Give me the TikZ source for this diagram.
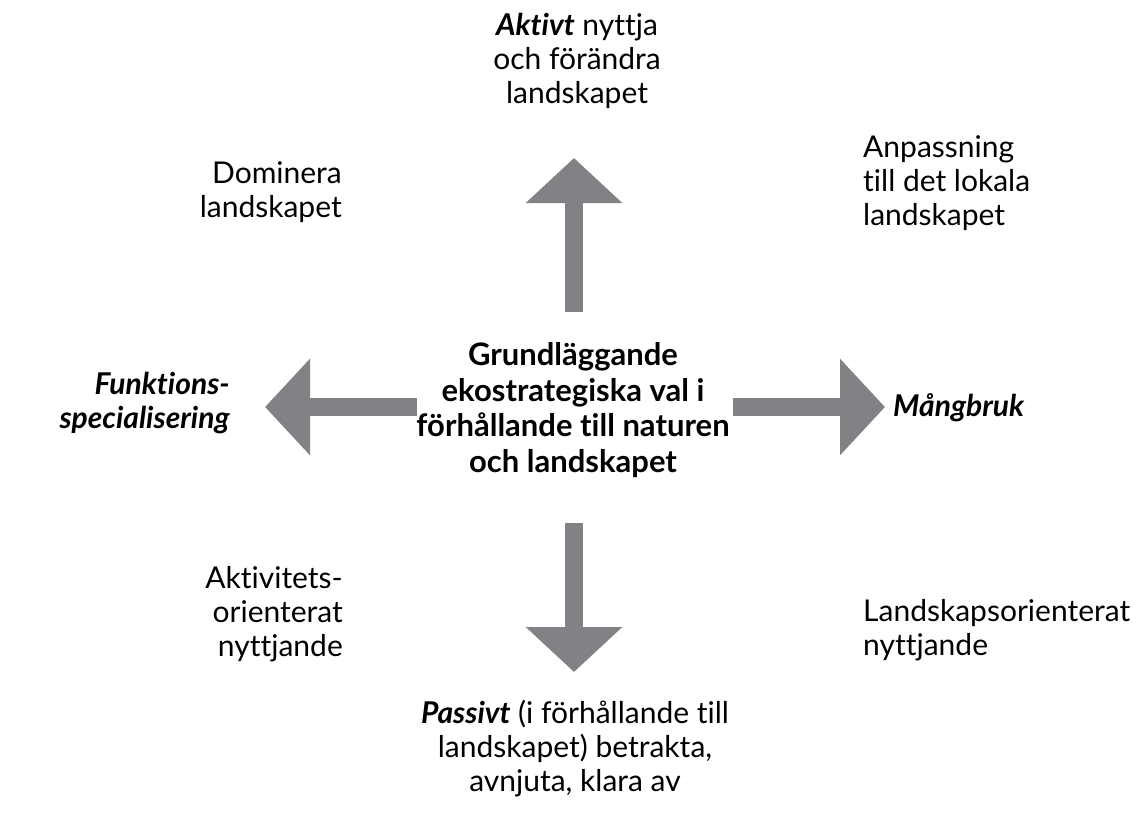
\documentclass[tikz,border=0pt]{standalone}
\usepackage{fontspec}
\setmainfont{Lato}[Ligatures=NoCommon]
\usetikzlibrary{arrows.meta}

\definecolor{arrowgray}{RGB}{128,130,133}

\tikzset{
  lbl/.style={font=\fontsize{30}{34}\selectfont, inner sep=0pt},
  mainlbl/.style={font=\bfseries\fontsize{31}{35.5}\selectfont, inner sep=0pt, align=center},
  bigarrow/.style={draw=arrowgray, line width=18pt,
    -{Triangle[length=45pt, width=94pt, fill=arrowgray]}}
}

\begin{document}
\begin{tikzpicture}[x=1pt, y=-1pt]

\useasboundingbox (0,0) rectangle (1142,816);

    % centre text
    \node (mid) at (573,410) [mainlbl] {Grundläggande\\ekostrategiska val i\\förhållande till naturen\\och landskapet};

    % arrow ends
    \coordinate (upS) at (574,312);
    \coordinate (upT) at (574,158);
    \coordinate (leftS) at (417,407);
    \coordinate (leftT) at (265,407);
    \coordinate (rightS) at (733,407);
    \coordinate (rightT) at (885,407);
    \coordinate (downS) at (574,523);
    \coordinate (downT) at (574,672);

    \draw[bigarrow] (upS) -- (upT);
    \draw[bigarrow] (leftS) -- (leftT);
    \draw[bigarrow] (rightS) -- (rightT);
    \draw[bigarrow] (downS) -- (downT);

    % axis labels
    \node (aktivt) at (577,61) [lbl, align=center] {\textbf{\textit{Aktivt}} nyttja\\och förändra\\landskapet};
    \node (passivt) at (575,749) [lbl, align=center] {\textbf{\textit{Passivt}} (i förhållande till\\landskapet) betrakta,\\avnjuta, klara av};
    \node (funk) at (230,403) [lbl, anchor=east, align=right] {\textbf{\textit{Funktions-}}\\\textbf{\textit{specialisering}}};
    \node (mang) at (893,408) [lbl, anchor=west] {\textbf{\textit{Mångbruk}}};

    % corner labels
    \node (dom) at (342,192) [lbl, anchor=east, align=right] {Dominera\\landskapet};
    \node (anp) at (863,183) [lbl, anchor=west, align=left] {Anpassning\\till det lokala\\landskapet};
    \node (akt) at (343,614) [lbl, anchor=east, align=right] {Aktivitets-\\orienterat\\nyttjande};
    \node (land) at (863,630) [lbl, anchor=west, align=left] {Landskapsorienterat\\nyttjande};

\end{tikzpicture}
\end{document}
